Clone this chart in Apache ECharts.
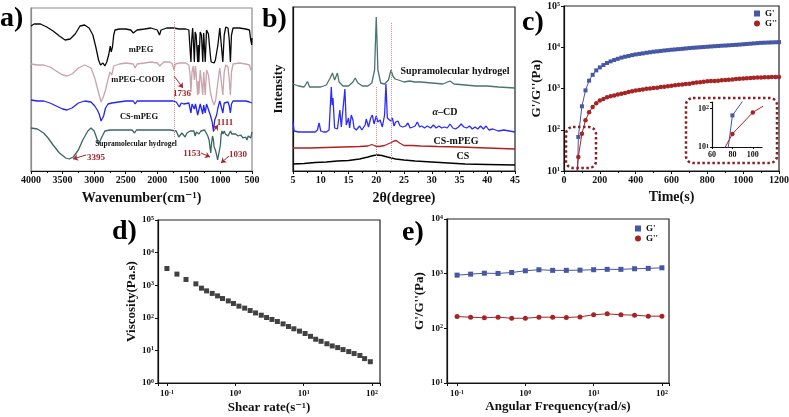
<!DOCTYPE html>
<html>
<head>
<meta charset="utf-8">
<style>
html,body{margin:0;padding:0;background:#fff;}
#chart{width:789px;height:417px;}
</style>
<script src="https://cdn.jsdelivr.net/npm/echarts@6/dist/echarts.min.js"></script>
</head>
<body>
<div id="chart"></div>
<script>
// a) FTIR, [wavenumber, transmittance a.u.]
var mpegIR = [[4000,145],[3950,147],[3850,147],[3750,144],[3650,140],[3550,135],[3460,131],[3380,132],[3300,137],[3224,145],[3150,146],[3080,143],[3020,136],[2970,123],[2930,111],[2900,106],[2880,105],[2860,108],[2830,105],[2800,109],[2770,116],[2745,125],[2730,119],[2710,124],[2690,136],[2670,141],[2600,142],[2500,142],[2420,141],[2380,138],[2350,136],[2320,141],[2200,142],[2100,143],[2000,141],[1965,136],[1940,141],[1850,143],[1750,143],[1650,142],[1550,142],[1500,141],[1485,126],[1467,109],[1455,131],[1440,143],[1425,126],[1413,109],[1400,139],[1385,136],[1360,109],[1350,126],[1342,109],[1320,139],[1300,136],[1280,109],[1265,138],[1241,109],[1220,141],[1190,137],[1160,116],[1147,109],[1120,111],[1100,108],[1080,111],[1060,109],[1040,126],[1010,143],[990,141],[962,109],[940,136],[915,144],[880,143],[860,131],[842,109],[825,136],[800,143],[700,143],[600,142],[540,141],[520,131],[505,126],[500,133]];
var cooHIR = [[4000,107],[3900,106],[3800,106],[3700,104],[3600,100],[3500,96],[3430,95],[3350,97],[3250,103],[3150,106],[3050,103],[2990,93],[2950,83],[2920,76],[2890,69],[2870,71],[2850,75],[2820,81],[2790,89],[2750,99],[2720,96],[2690,105],[2600,107],[2500,108],[2380,107],[2350,103],[2320,107],[2200,108],[2100,109],[2000,108],[1960,105],[1900,109],[1800,109],[1760,107],[1736,101],[1715,107],[1650,108],[1550,108],[1500,106],[1480,96],[1467,79],[1450,99],[1430,105],[1413,91],[1395,105],[1360,76],[1350,90],[1342,77],[1320,101],[1300,99],[1280,76],[1265,99],[1241,76],[1220,101],[1190,96],[1160,79],[1130,71],[1100,66],[1075,71],[1060,73],[1040,89],[1010,103],[990,101],[962,76],[940,99],[915,106],[880,104],[860,91],[842,76],[825,99],[800,107],[700,108],[600,107],[540,106],[520,101],[505,99],[500,103]];
var csMpegIR = [[4000,71],[3900,70],[3800,70],[3700,68],[3600,65],[3500,62],[3430,61],[3350,63],[3250,68],[3150,70],[3050,69],[2990,65],[2950,61],[2920,57],[2890,50],[2870,49],[2850,55],[2820,63],[2780,67],[2720,68],[2690,70],[2500,70],[2380,70],[2350,67],[2320,70],[2100,70],[1900,70],[1750,70],[1700,69],[1650,64],[1620,68],[1580,67],[1550,69],[1500,68],[1467,58],[1450,67],[1413,62],[1395,67],[1360,56],[1342,58],[1320,67],[1280,57],[1265,66],[1241,58],[1220,67],[1190,65],[1160,56],[1130,49],[1111,40],[1090,51],[1060,56],[1040,63],[1010,70],[990,69],[962,58],[940,68],[915,70],[880,69],[860,65],[842,58],[825,67],[800,70],[700,70],[600,70],[540,69],[500,68]];
var hydrogelIR = [[4000,43],[3900,42],[3800,38],[3730,33],[3650,26],[3550,18],[3450,13],[3395,12],[3330,14],[3250,21],[3180,31],[3100,40],[3050,43],[3000,40],[2960,33],[2930,27],[2900,28],[2870,35],[2830,40],[2750,41],[2600,41],[2400,41],[2360,38],[2330,41],[2200,41],[2000,41],[1800,41],[1700,40],[1660,34],[1640,33],[1610,38],[1580,37],[1560,34],[1530,38],[1480,40],[1455,38],[1420,40],[1400,35],[1380,39],[1340,37],[1310,40],[1280,38],[1250,41],[1230,40],[1200,35],[1180,31],[1160,21],[1153,18],[1140,28],[1125,35],[1111,31],[1100,24],[1080,21],[1060,16],[1045,11],[1030,9],[1015,13],[1000,26],[990,36],[975,40],[960,37],[940,40],[920,37],[900,38],[880,35],[860,37],[840,40],[820,37],[800,35],[760,37],[720,35],[680,36],[640,33],[600,34],[580,31],[560,35],[540,36],[520,33],[500,39]];

// b) XRD, [2theta, intensity a.u.]
var csXRD = [[5,7],[7,7.5],[9,8.5],[11,9],[13,10],[15,10.5],[17,12],[18.5,14],[19.5,15.5],[20.3,16],[21,15.5],[22,14],[23.5,12],[25,11],[27,10],[30,9],[33,8],[36,7],[40,6.5],[45,6]];
var csMpegXRD = [[5,23],[8,23],[11,23.5],[14,24],[17,24.5],[18.5,25],[19.2,26.5],[19.8,25],[20.5,24.5],[21.5,25.5],[22.5,28],[23.2,30],[23.6,30.5],[24.2,28],[25,25.5],[26.5,25.5],[28,25],[31,24.5],[35,24],[40,23],[45,22]];
var alphaCdXRD = [[5.0,49],[5.2,40],[6,39],[7,39],[8,39],[9,39],[9.4,41],[9.7,48],[10.0,40],[10.5,39],[11.0,39],[11.5,41],[11.9,84],[12.05,66],[12.2,73],[12.5,43],[13.0,42],[13.45,61],[13.7,44],[14.0,43],[14.35,82],[14.6,46],[15.0,53],[15.2,43],[15.5,56],[15.8,51],[16.0,43],[16.4,41],[17.0,45],[17.4,41],[18.0,46],[18.2,52],[18.6,44],[19.0,53],[19.3,56],[19.6,47],[20.0,55],[20.3,49],[20.7,51],[21.1,44],[21.5,56],[21.75,87],[22.0,53],[22.3,51],[22.6,50],[22.9,53],[23.2,45],[23.5,49],[23.9,50],[24.3,45],[24.8,44],[25.3,45],[25.7,48],[26.1,43],[26.6,44],[27.0,45],[27.4,49],[27.8,44],[28.2,45],[28.7,43],[29.2,45],[29.8,43],[30.3,46],[30.8,43],[31.3,45],[31.8,43],[32.3,44],[32.8,43],[33.3,47],[33.8,43],[34.3,42],[34.8,44],[35.3,47],[35.8,44],[36.3,43],[36.8,45],[37.3,42],[37.8,44],[38.3,42],[38.8,45],[39.3,42],[39.8,45],[40.3,41],[41,42],[42,40],[43,41],[44,40],[45,39]];
var hydrogelXRD = [[5,87],[6,85],[7,84],[7.6,89.5],[8.0,84],[9,84],[10,84],[11,86],[11.7,93],[12.1,98],[12.5,91],[12.8,93],[13.0,98],[13.3,89],[14,85],[15,85],[15.8,89],[16.2,93],[16.7,88],[17.5,85],[18.5,85],[19.2,88],[19.7,101],[20.0,154],[20.3,101],[20.8,88],[21.5,87],[22.2,91],[22.66,101],[23.0,95],[23.4,92],[24.0,91],[25,89],[26,90],[27,89],[28,89],[30,88],[32,87],[33.3,90],[34,87],[36,86],[38,85],[40,85],[42,84],[45,83]];

// c) time sweep
var timeC = [60,80,100,120,140,160,180,200,220,240,260,280,300,320,340,360,380,400,420,440,460,480,500,520,540,560,580,600,620,640,660,680,700,720,740,760,780,800,820,840,860,880,900,920,940,960,980,1000,1020,1040,1060,1080,1100,1120,1140,1160,1180,1200];
var gPrimeC = [0.005,67,370,900,1550,2150,2750,3250,3700,4150,4550,4900,5250,5600,5900,6150,6450,6700,6900,7100,7350,7550,7800,7950,8150,8350,8500,8700,8850,9000,9150,9350,9550,9700,9850,10000,10150,10300,10450,10600,10750,10900,11000,11150,11300,11450,11600,11800,12000,12200,12400,12600,12800,12900,13000,13100,13200,13300];
var gDoubleC = [2.3,22,80,170,265,357,440,510,560,610,650,680,720,750,780,820,860,900,920,950,980,1000,1030,1050,1080,1110,1140,1170,1200,1230,1250,1280,1310,1350,1390,1420,1460,1490,1510,1530,1550,1580,1600,1630,1660,1690,1720,1740,1770,1790,1820,1840,1860,1870,1880,1890,1900,1900];

// d) viscosity
var shearD = [0.1,0.14,0.19,0.265,0.32,0.38,0.46,0.55,0.65,0.79,0.94,1.13,1.37,1.65,1.98,2.4,2.87,3.44,4.13,5.0,6.0,7.2,8.7,10.5,12.6,15.0,18.0,21.9,26.2,31.5,37.7,45.7,54.8,66.5,78,94.5];
var viscD = [3250,2190,1500,1100,810,670,560,470,390,330,275,228,198,167,141,120,102,89,77,65,54,46,39,33,27,22,19,16,13.7,12.2,10.6,9.2,8,7,5.6,4.5];

// e) frequency sweep
var freqE = [0.1,0.158,0.251,0.398,0.631,1,1.58,2.51,3.98,6.31,10,15.8,25.1,39.8,63.1,100];
var gPrimeE = [940,980,1020,1010,1050,1130,1180,1150,1150,1160,1180,1200,1200,1230,1250,1280];
var gDoubleE = [164,160,156,160,153,153,160,160,158,162,177,184,177,174,167,167];

var SERIF = '"Liberation Serif","DejaVu Serif",serif';
var RED = '#a3262a';
var BLUE_G = '#4557a5';
var RED_G = '#a82424';

function pairs(xs, ys){
    var out = [];
    for (var i = 0; i < xs.length; i++) out.push([xs[i], ys[i]]);
    return out;
}

function plainLabel(v){
    return String(v);
}

function logLabel(v){
    var l = Math.log10(v);
    var n = Math.round(l);
    if (Math.abs(l - n) > 1e-6) return '';
    return '10{s|' + n + '}';
}
var supRich = {s: {fontSize: 6, fontWeight: 'bold', fontFamily: SERIF, color: '#111', verticalAlign: 'top'}};

function axis(opt){
    var base = {
        nameLocation: 'middle',
        nameTextStyle: {fontFamily: SERIF, fontWeight: 'bold', fontSize: 13, color: '#111'},
        axisLine: {show: true, onZero: false, lineStyle: {color: '#111', width: 1.2}},
        axisTick: {show: true, length: 3, lineStyle: {color: '#111', width: 1}},
        minorTick: {show: false, length: 2, lineStyle: {color: '#111'}},
        axisLabel: {fontFamily: SERIF, fontWeight: 'bold', fontSize: 10, color: '#111', margin: 4, formatter: plainLabel},
        splitLine: {show: false}
    };
    return echarts.util.merge(base, opt, true);
}

function logAxis(opt){
    return axis(echarts.util.merge({type: 'log', axisLabel: {formatter: logLabel, rich: supRich}}, opt, true));
}

function txt(x, y, s, size, color, align, extra){
    var st = {text: s, x: x, y: y, fill: color || '#111', font: 'bold ' + size + 'px ' + SERIF,
        textAlign: align || 'center', align: align || 'center', textVerticalAlign: 'middle', verticalAlign: 'middle'};
    if (extra) for (var k in extra) st[k] = extra[k];
    return {type: 'text', silent: true, z: 100, style: st};
}

function dotBox(x, y, w, h){
    return {type: 'rect', silent: true, z: 100, shape: {x: x, y: y, width: w, height: h, r: 7},
        style: {fill: 'none', stroke: '#8b1f24', lineWidth: 2.5, lineDash: [2.5, 2.5]}};
}

function arrow(x1, y1, x2, y2){
    return [{coord: [x1, y1]}, {coord: [x2, y2]}];
}

function gridBox(l, t, w, h, border){
    return {left: l, top: t, width: w, height: h, show: true, backgroundColor: '#fff',
        borderColor: border || '#222', borderWidth: 1.2, containLabel: false, outerBoundsMode: 'none'};
}

function gLegend(l, t){
    return {data: [{name: "G'", icon: 'rect'}, {name: "G''", icon: 'circle'}], orient: 'vertical', left: l, top: t,
        padding: 0, itemWidth: 6, itemHeight: 6, itemGap: 1, selectedMode: false,
        textStyle: {fontFamily: SERIF, fontWeight: 'bold', fontSize: 9, color: '#111', lineHeight: 9}};
}

var myChart = echarts.init(document.getElementById('chart'));
var option = {
    animation: false,
    backgroundColor: '#fff',
    grid: [
        gridBox(31, 8, 221, 163, '#8c8c8c'),
        gridBox(293, 7, 222, 164),
        gridBox(564, 6, 215, 165),
        gridBox(158, 220, 222, 163),
        gridBox(447, 219, 222, 164),
        {left: 712, top: 102, width: 50, height: 45, show: false, containLabel: false, outerBoundsMode: 'none'}
    ],
    xAxis: [
        axis({gridIndex: 0, type: 'value', inverse: true, min: 500, max: 4000, interval: 500,
            name: 'Wavenumber(cm\u207b\u00b9)', nameGap: 20, nameTextStyle: {fontSize: 14},
            minorTick: {show: true, splitNumber: 2}}),
        axis({gridIndex: 1, type: 'value', min: 5, max: 45, interval: 5,
            name: '2\u03b8(degree)', nameGap: 20, nameTextStyle: {fontSize: 14},
            minorTick: {show: true, splitNumber: 2}}),
        axis({gridIndex: 2, type: 'value', min: 0, max: 1200, interval: 200,
            name: 'Time(s)', nameGap: 19, nameTextStyle: {fontSize: 14},
            minorTick: {show: true, splitNumber: 2}}),
        logAxis({gridIndex: 3, min: 0.074, max: 131, name: 'Shear rate(s\u207b\u00b9)', nameGap: 18, axisLabel: {fontSize: 9, margin: 6}}),
        logAxis({gridIndex: 4, min: 0.0712, max: 127, name: 'Angular Frequency(rad/s)', nameGap: 17, axisLabel: {fontSize: 9, margin: 6}}),
        axis({gridIndex: 5, type: 'value', min: 60, max: 109, interval: 20,
            axisLabel: {fontSize: 8, margin: 4, showMaxLabel: false}, axisTick: {length: 2}})
    ],
    yAxis: [
        axis({gridIndex: 0, type: 'value', min: 0, max: 163, axisLine: {lineStyle: {color: '#8c8c8c'}},
            axisTick: {show: false}, axisLabel: {show: false}}),
        axis({gridIndex: 1, type: 'value', min: 0, max: 164, name: 'Intensity', nameGap: 8,
            axisTick: {show: false}, axisLabel: {show: false}}),
        logAxis({gridIndex: 2, min: 10, max: 100000, name: "G'/G''(Pa)", nameGap: 21}),
        logAxis({gridIndex: 3, min: 1, max: 100000, name: 'Viscosity(Pa.s)', nameGap: 20, axisLabel: {fontSize: 9}}),
        logAxis({gridIndex: 4, min: 10, max: 10000, name: "G'/G''(Pa)", nameGap: 21, axisLabel: {fontSize: 9}}),
        logAxis({gridIndex: 5, min: 10, max: 150, axisLabel: {fontSize: 8, margin: 3}, axisTick: {length: 2}})
    ],
    legend: [gLegend(754, 9), gLegend(635, 224)],
    series: [
        // a)
        {type: 'line', xAxisIndex: 0, yAxisIndex: 0, data: mpegIR, showSymbol: false, lineStyle: {width: 1.3, color: '#0a0a0a'}},
        {type: 'line', xAxisIndex: 0, yAxisIndex: 0, data: cooHIR, showSymbol: false, lineStyle: {width: 1.3, color: '#c9a3ad'}},
        {type: 'line', xAxisIndex: 0, yAxisIndex: 0, data: csMpegIR, showSymbol: false, lineStyle: {width: 1.3, color: '#2424f5'}},
        {type: 'line', xAxisIndex: 0, yAxisIndex: 0, data: hydrogelIR, showSymbol: false, lineStyle: {width: 1.3, color: '#3c6660'},
            markLine: {silent: true, symbol: ['none', 'arrow'], symbolSize: 5, label: {show: false},
                lineStyle: {color: RED, type: 'solid', width: 1},
                data: [
                    [{coord: [1736, 149], symbol: 'none', lineStyle: {color: '#d9898f', type: 'dotted', width: 1}}, {coord: [1736, 33], symbol: 'none'}],
                    arrow(1735, 95, 1593, 83),
                    arrow(1118, 39, 1038, 46),
                    arrow(1308, 18, 1165, 14),
                    arrow(864, 15, 991, 8),
                    arrow(3129, 16, 3335, 12)
                ]}},
        // b)
        {type: 'line', xAxisIndex: 1, yAxisIndex: 1, data: csXRD, showSymbol: false, lineStyle: {width: 1.3, color: '#000'}},
        {type: 'line', xAxisIndex: 1, yAxisIndex: 1, data: csMpegXRD, showSymbol: false, lineStyle: {width: 1.3, color: '#b02020'}},
        {type: 'line', xAxisIndex: 1, yAxisIndex: 1, data: alphaCdXRD, showSymbol: false, lineStyle: {width: 1.3, color: '#2b2bff'}},
        {type: 'line', xAxisIndex: 1, yAxisIndex: 1, data: hydrogelXRD, showSymbol: false, lineStyle: {width: 1.3, color: '#4a756d'},
            markLine: {silent: true, symbol: 'none', label: {show: false},
                lineStyle: {color: '#d9898f', type: 'dotted', width: 1},
                data: [
                    [{coord: [20, 84]}, {coord: [20, 8]}],
                    [{coord: [22.7, 148]}, {coord: [22.7, 8]}]
                ]}},
        // c)
        {name: "G'", type: 'line', xAxisIndex: 2, yAxisIndex: 2, data: pairs(timeC, gPrimeC), symbol: 'rect', symbolSize: 4,
            itemStyle: {color: BLUE_G}, lineStyle: {width: 1, color: BLUE_G}},
        {name: "G''", type: 'line', xAxisIndex: 2, yAxisIndex: 2, data: pairs(timeC, gDoubleC), symbol: 'circle', symbolSize: 4.5,
            itemStyle: {color: RED_G}, lineStyle: {width: 1, color: RED_G}},
        // c) inset
        {name: "G'", type: 'line', xAxisIndex: 5, yAxisIndex: 5, data: pairs(timeC, gPrimeC), symbol: 'rect', symbolSize: 4,
            itemStyle: {color: BLUE_G}, lineStyle: {width: 1, color: BLUE_G}},
        {name: "G''", type: 'line', xAxisIndex: 5, yAxisIndex: 5, data: pairs(timeC, gDoubleC), symbol: 'circle', symbolSize: 4.5,
            itemStyle: {color: RED_G}, lineStyle: {width: 1, color: RED_G}},
        // d)
        {type: 'scatter', xAxisIndex: 3, yAxisIndex: 3, data: pairs(shearD, viscD), symbol: 'rect', symbolSize: 5,
            itemStyle: {color: '#111'}},
        // e)
        {name: "G'", type: 'line', xAxisIndex: 4, yAxisIndex: 4, data: pairs(freqE, gPrimeE), symbol: 'rect', symbolSize: 5,
            itemStyle: {color: BLUE_G}, lineStyle: {width: 1, color: BLUE_G}},
        {name: "G''", type: 'line', xAxisIndex: 4, yAxisIndex: 4, data: pairs(freqE, gDoubleE), symbol: 'circle', symbolSize: 5,
            itemStyle: {color: RED_G}, lineStyle: {width: 1, color: RED_G}}
    ],
    graphic: [
        txt(0, 19, 'a)', 28, '#000', 'left'),
        txt(262, 20, 'b)', 28, '#000', 'left'),
        txt(522, 23, 'c)', 28, '#000', 'left'),
        txt(112, 232, 'd)', 28, '#000', 'left'),
        txt(402, 233, 'e)', 28, '#000', 'left'),
        txt(141, 50, 'mPEG', 8.5),
        txt(138, 80, 'mPEG-COOH', 8.5),
        txt(139, 117, 'CS-mPEG', 8.5),
        txt(136, 144, 'Supramolecular hydrogel', 7.5),
        txt(182, 94, '1736', 9, RED),
        txt(225, 123, '1111', 9, RED),
        txt(192, 154, '1153', 9, RED),
        txt(238, 155, '1030', 9, RED),
        txt(96, 158, '3395', 9, RED),
        txt(455, 71, 'Supramolecular hydrogel', 10),
        txt(445, 112, '{i|\u03b1}\u2013CD', 10, '#111', 'center', {rich: {i: {fontStyle: 'italic', fontWeight: 'bold', fontSize: 10, fontFamily: SERIF}}}),
        txt(456, 141, 'CS-mPEG', 10),
        txt(463, 156, 'CS', 10),
        dotBox(566, 127, 30, 41),
        dotBox(686, 98, 91, 65)
    ]
};
myChart.setOption(option);
</script>
</body>
</html>
